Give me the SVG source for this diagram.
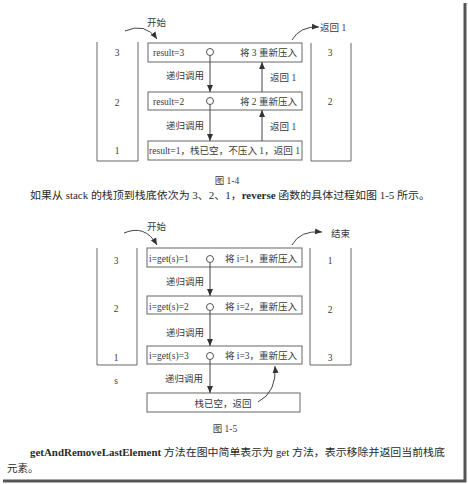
<svg xmlns="http://www.w3.org/2000/svg" width="468" height="484" viewBox="0 0 468 484">
<style>
.t{font-family:"Liberation Serif","Noto Sans CJK SC",serif;font-size:9.5px;fill:#3a3a3a}
.b{font-family:"Liberation Serif","Noto Sans CJK SC",serif;font-size:10.5px;fill:#2a2a2a}
.box{fill:#fff;stroke:#666;stroke-width:1}
.stk{fill:none;stroke:#666;stroke-width:1}
.ln{fill:none;stroke:#444;stroke-width:1;marker-end:url(#ah)}
.cv{fill:none;stroke:#444;stroke-width:1;marker-end:url(#ah)}
.c{fill:#fff;stroke:#555;stroke-width:1}
</style>
<defs>
<marker id="ah" markerWidth="8" markerHeight="8" refX="7" refY="4" orient="auto" markerUnits="userSpaceOnUse">
<path d="M0,1 L7,4 L0,7 Z" fill="#333"/>
</marker>
</defs>
<rect width="468" height="484" fill="#fff"/>
<!-- page shadow -->
<line x1="465" y1="3" x2="465" y2="482" stroke="#555" stroke-width="3"/>
<line x1="3" y1="481" x2="466" y2="481" stroke="#555" stroke-width="3"/>

<!-- Figure 1-4 -->
<g id="stackL1"><polyline class="stk" points="97,42 97,161 138,161 138,42"/>
<text class="t" x="117" y="56" text-anchor="middle">3</text>
<text class="t" x="117" y="106" text-anchor="middle">2</text>
<text class="t" x="117" y="154" text-anchor="middle">1</text></g>
<g id="stackR1"><polyline class="stk" points="311,43 311,161 351,161 351,43"/>
<text class="t" x="330" y="56" text-anchor="middle">3</text>
<text class="t" x="330" y="105" text-anchor="middle">2</text></g>
<g id="start1"><text class="t" x="147" y="26">开始</text></g>
<g id="ret1"><text class="t" x="320" y="31">返回 1</text></g>
<g id="b13"><rect class="box" x="148" y="43" width="154" height="19"/>
<text class="t" x="153" y="56">result=3</text>
<text class="t" x="297" y="56" text-anchor="end">将 3 重新压入</text>
<circle class="c" cx="210" cy="52" r="3.5"/></g>
<g id="b12"><rect class="box" x="148" y="92" width="154" height="18"/>
<text class="t" x="153" y="105">result=2</text>
<text class="t" x="297" y="105" text-anchor="end">将 2 重新压入</text>
<circle class="c" cx="210" cy="101" r="3.5"/></g>
<g id="b11"><rect class="box" x="148" y="141" width="154" height="19"/>
<text class="t" x="149" y="154" textLength="151" lengthAdjust="spacingAndGlyphs">result=1，栈已空，不压入 1，返回 1</text></g>
<g id="conn1">
<path class="cv" d="M125,31 Q145,22 157,39"/>
<path class="cv" d="M292,40 Q300,26 319,27"/>
<line class="ln" x1="210" y1="55.5" x2="210" y2="92"/>
<line class="ln" x1="210" y1="104.5" x2="210" y2="141"/>
<line class="ln" x1="262" y1="92" x2="262" y2="62"/>
<line class="ln" x1="262" y1="141" x2="262" y2="110"/>
</g>
<g id="lbl1">
<text class="t" x="185" y="78.5" text-anchor="middle">递归调用</text>
<text class="t" x="185" y="128.5" text-anchor="middle">递归调用</text>
<text class="t" x="270" y="80.5">返回 1</text>
<text class="t" x="270" y="129.5">返回 1</text>
</g>
<text class="t" x="227" y="183.5" text-anchor="middle">图 1-4</text>
<text class="b" x="30" y="199" textLength="400" lengthAdjust="spacingAndGlyphs">如果从 stack 的栈顶到栈底依次为 3、2、1，<tspan font-weight="bold">reverse</tspan> 函数的具体过程如图 1-5 所示。</text>

<!-- Figure 1-5 -->
<g id="stackL2"><polyline class="stk" points="97,248 97,365 137,365 137,248"/>
<text class="t" x="116" y="263.5" text-anchor="middle">3</text>
<text class="t" x="116" y="311.5" text-anchor="middle">2</text>
<text class="t" x="116" y="360.5" text-anchor="middle">1</text>
<text class="t" x="116" y="384" text-anchor="middle">s</text></g>
<g id="stackR2"><polyline class="stk" points="310,248 310,365 351,365 351,248"/>
<text class="t" x="330" y="263.5" text-anchor="middle">1</text>
<text class="t" x="330" y="312.5" text-anchor="middle">2</text>
<text class="t" x="330" y="360.5" text-anchor="middle">3</text></g>
<g id="start2"><text class="t" x="147" y="230">开始</text></g>
<g id="end2"><text class="t" x="331" y="236.5">结束</text></g>
<g id="b21"><rect class="box" x="147" y="248" width="155" height="19"/>
<text class="t" x="149" y="261.5">i=get(s)=1</text>
<text class="t" x="297" y="261.5" text-anchor="end">将 i=1，重新压入</text>
<circle class="c" cx="210" cy="259" r="3.5"/></g>
<g id="b22"><rect class="box" x="147" y="296" width="155" height="18"/>
<text class="t" x="149" y="309.5">i=get(s)=2</text>
<text class="t" x="297" y="309.5" text-anchor="end">将 i=2，重新压入</text>
<circle class="c" cx="210" cy="307" r="3.5"/></g>
<g id="b23"><rect class="box" x="147" y="346" width="155" height="18"/>
<text class="t" x="149" y="359">i=get(s)=3</text>
<text class="t" x="297" y="359" text-anchor="end">将 i=3，重新压入</text>
<circle class="c" cx="210" cy="356" r="3.5"/></g>
<g id="b24"><rect class="box" x="147" y="393" width="153" height="19"/>
<text class="t" x="223" y="406.5" text-anchor="middle">栈已空，返回</text></g>
<g id="conn2">
<path class="cv" d="M124,233 Q145,224 157,245"/>
<path class="cv" d="M292,245 Q300,230 322,232"/>
<line class="ln" x1="210" y1="262.5" x2="210" y2="296"/>
<line class="ln" x1="210" y1="310.5" x2="210" y2="346"/>
<line class="ln" x1="210" y1="359.5" x2="210" y2="393"/>
<path class="cv" d="M258,402 Q277,392 275,366"/>
</g>
<g id="lbl2">
<text class="t" x="185" y="284.5" text-anchor="middle">递归调用</text>
<text class="t" x="185" y="335.5" text-anchor="middle">递归调用</text>
<text class="t" x="184" y="381.5" text-anchor="middle">递归调用</text>
</g>
<text class="t" x="225" y="431.5" text-anchor="middle">图 1-5</text>
<text class="b" x="30" y="456" textLength="415" lengthAdjust="spacingAndGlyphs"><tspan font-weight="bold">getAndRemoveLastElement</tspan> 方法在图中简单表示为 get 方法，表示移除并返回当前栈底</text>
<text class="b" x="7" y="472">元素。</text>
</svg>
